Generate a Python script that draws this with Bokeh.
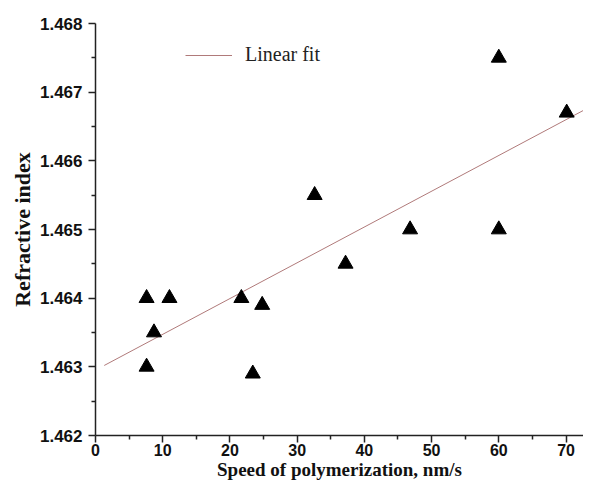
from bokeh.plotting import figure
from bokeh.models import (FixedTicker, PrintfTickFormatter, Range1d, Legend, LegendItem)
from bokeh.embed import file_html
from bokeh.resources import INLINE

# Data
speed = [7.6, 11.0, 8.7, 7.6, 21.7, 24.8, 23.4, 32.6, 37.2, 46.8, 60.0, 60.0, 70.1]
refr = [1.4640, 1.4640, 1.4635, 1.4630, 1.4640, 1.4639, 1.4629, 1.4655, 1.4645,
        1.4650, 1.4675, 1.4650, 1.4667]
fit_x = [1.3, 75.0]
fit_y = [1.46302, 1.46686]

x_ticks = [0, 10, 20, 30, 40, 50, 60, 70]
x_minor = [5, 15, 25, 35, 45, 55, 65]
y_ticks = [1.462, 1.463, 1.464, 1.465, 1.466, 1.467, 1.468]
y_minor = [1.4625, 1.4635, 1.4645, 1.4655, 1.4665, 1.4675]
x_title = "Speed of polymerization, nm/s"
y_title = "Refractive index"

p = figure(width=583, height=482, output_backend="svg", toolbar_location=None,
           x_range=Range1d(0, 72.6), y_range=Range1d(1.462, 1.468),
           min_border_left=95, min_border_right=0, min_border_top=23,
           min_border_bottom=47)
p.outline_line_color = None
p.grid.visible = False

line_r = p.line(fit_x, fit_y, line_color="#b07a7a", line_width=1)
p.scatter(speed, refr, marker="triangle", size=15, fill_color="black",
          line_color="black")

for ax, ticks, minor in ((p.xaxis[0], x_ticks, x_minor), (p.yaxis[0], y_ticks, y_minor)):
    ax.ticker = FixedTicker(ticks=ticks, minor_ticks=minor)
    ax.axis_line_width = 1.5
    ax.axis_line_color = "#222222"
    ax.major_tick_line_width = 1.5
    ax.minor_tick_line_width = 1.5
    ax.major_tick_line_color = "#222222"
    ax.minor_tick_line_color = "#222222"
    ax.major_tick_in = 0
    ax.major_tick_out = 7
    ax.minor_tick_in = 0
    ax.minor_tick_out = 4
    ax.major_label_text_font = "Liberation Sans"
    ax.major_label_text_font_style = "bold"
    ax.major_label_text_color = "#111111"
    ax.axis_label_text_font = "Liberation Serif"
    ax.axis_label_text_font_style = "bold"
    ax.axis_label_text_color = "#111111"

p.yaxis[0].formatter = PrintfTickFormatter(format="%.3f")
p.xaxis[0].axis_label = x_title
p.yaxis[0].axis_label = y_title
p.xaxis[0].major_label_text_font_size = "16px"
p.yaxis[0].major_label_text_font_size = "17px"
p.xaxis[0].axis_label_text_font_size = "19px"
p.yaxis[0].axis_label_text_font_size = "22px"
p.xaxis[0].major_label_standoff = 1
p.yaxis[0].major_label_standoff = 6
p.xaxis[0].axis_label_standoff = 0
p.yaxis[0].axis_label_standoff = 2

legend = Legend(items=[LegendItem(label="Linear fit", renderers=[line_r])],
                location=(90, 369), padding=0, margin=0, spacing=0,
                border_line_color=None, background_fill_alpha=0,
                glyph_width=47, glyph_height=20, label_height=20,
                label_standoff=13, label_text_font="Liberation Serif",
                label_text_font_size="20px", label_text_color="#222222")
p.add_layout(legend)

open("out.html", "w").write(file_html(p, INLINE))
